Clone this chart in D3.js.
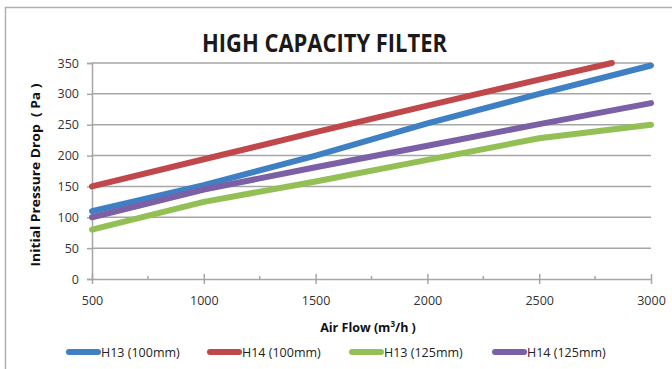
<!DOCTYPE html>
<html>
<head>
<meta charset="utf-8">
<script src="https://cdn.jsdelivr.net/npm/d3@7"></script>
<style>
  body { margin: 0; background: #fff; }
  svg { display: block; }
</style>
</head>
<body>
<svg id="chart" width="672" height="369"></svg>
<script>
    // data
    var airFlow = [500, 1000, 1500, 2000, 2500, 3000];
    var airFlowH14 = [500, 1000, 1500, 2000, 2500, 2825];
    var h13_100 = [110, 152, 200, 252, 300, 346];
    var h14_100 = [150, 194, 238, 281, 323, 350];
    var h13_125 = [80, 125, 158, 193, 228, 250];
    var h14_125 = [100, 145, 181, 216, 251, 285];
    var xTicks = [500, 1000, 1500, 2000, 2500, 3000];
    var xMinor = [750, 1250, 1750, 2250, 2750];
    var yTicks = [0, 50, 100, 150, 200, 250, 300, 350];

    var series = [
        { name: "H13 (100mm)", x: airFlow, y: h13_100, color: "#3f7fc3" },
        { name: "H14 (100mm)", x: airFlowH14, y: h14_100, color: "#c0474a" },
        { name: "H13 (125mm)", x: airFlow, y: h13_125, color: "#93bf55" },
        { name: "H14 (125mm)", x: airFlow, y: h14_125, color: "#7b60a6" }
    ];
    var legendX = [67, 208, 350, 493];

    var font = "'Open Sans', sans-serif";
    var svg = d3.select("#chart");

    // outer frame
    svg.append("rect")
        .attr("x", 5.5).attr("y", 7.5)
        .attr("width", 680).attr("height", 380)
        .attr("fill", "none")
        .attr("stroke", "#b0b0b0")
        .attr("stroke-width", 1.5);

    var x = d3.scaleLinear().domain([500, 3000]).range([92, 651]);
    var y = d3.scaleLinear().domain([0, 350]).range([279, 63]);

    // gridlines
    svg.append("g").selectAll("line")
        .data(yTicks.filter(function (d) { return d > 0; }))
        .enter().append("line")
        .attr("x1", x(500)).attr("x2", x(3000))
        .attr("y1", function (d) { return y(d); })
        .attr("y2", function (d) { return y(d); })
        .attr("stroke", "#a6a6a6")
        .attr("stroke-width", 1.5);

    // y axis
    var yAxis = svg.append("g")
        .attr("transform", "translate(" + x(500) + ",0)")
        .call(d3.axisLeft(y).tickValues(yTicks).tickSize(5).tickPadding(8));
    yAxis.select(".domain").attr("stroke", "#a6a6a6").attr("stroke-width", 1.5);
    yAxis.selectAll(".tick line").attr("stroke", "#a6a6a6").attr("stroke-width", 1.5);
    yAxis.selectAll("text")
        .attr("font-family", font).attr("font-size", "12.5px").attr("fill", "#333");

    // x axis
    var xAxis = svg.append("g")
        .attr("transform", "translate(0," + y(0) + ")")
        .call(d3.axisBottom(x).tickValues(xTicks).tickFormat(d3.format("d"))
            .tickSize(5).tickPadding(12).tickSizeOuter(0));
    xAxis.select(".domain").attr("stroke", "#a6a6a6").attr("stroke-width", 1.5);
    xAxis.selectAll(".tick line").attr("y1", -5).attr("stroke", "#a6a6a6").attr("stroke-width", 1.5);
    xAxis.selectAll("text")
        .attr("font-family", font).attr("font-size", "12.5px").attr("fill", "#333");
    xAxis.selectAll(".minor")
        .data(xMinor)
        .enter().append("line")
        .attr("x1", function (d) { return x(d); })
        .attr("x2", function (d) { return x(d); })
        .attr("y1", -3).attr("y2", 0)
        .attr("stroke", "#a6a6a6").attr("stroke-width", 1.5);

    // lines
    var line = d3.line()
        .x(function (d) { return x(d[0]); })
        .y(function (d) { return y(d[1]); });
    series.forEach(function (s) {
        svg.append("path")
            .datum(d3.zip(s.x, s.y))
            .attr("d", line)
            .attr("fill", "none")
            .attr("stroke", s.color)
            .attr("stroke-width", 6)
            .attr("stroke-linecap", "round")
            .attr("stroke-linejoin", "round");
    });

    // titles
    svg.append("text")
        .attr("x", 202).attr("y", 52)
        .attr("textLength", 245).attr("lengthAdjust", "spacingAndGlyphs")
        .attr("font-family", font).attr("font-weight", "bold")
        .attr("font-size", "25px").attr("fill", "#1a1a1a")
        .text("HIGH CAPACITY FILTER");

    var xt = svg.append("text")
        .attr("x", 368).attr("y", 332)
        .attr("text-anchor", "middle")
        .attr("font-family", font).attr("font-weight", "bold")
        .attr("font-size", "12.5px").attr("fill", "#111");
    xt.append("tspan").text("Air Flow (m");
    xt.append("tspan").attr("font-size", "8px").attr("dy", -5).text("3");
    xt.append("tspan").attr("dy", 5).text("/h )");

    svg.append("text")
        .attr("transform", "translate(40,175) rotate(-90)")
        .attr("text-anchor", "middle")
        .attr("textLength", 183).attr("lengthAdjust", "spacingAndGlyphs")
        .attr("font-family", font).attr("font-weight", "bold")
        .attr("font-size", "13px").attr("fill", "#111")
        .attr("xml:space", "preserve")
        .text("Initial Pressure Drop  ( Pa )");

    // legend
    var leg = svg.append("g").selectAll("g")
        .data(series)
        .enter().append("g")
        .attr("transform", function (d, i) { return "translate(" + legendX[i] + ",352)"; });
    leg.append("line")
        .attr("x1", 2).attr("x2", 31)
        .attr("stroke", function (d) { return d.color; })
        .attr("stroke-width", 6)
        .attr("stroke-linecap", "round");
    leg.append("text")
        .attr("x", 34).attr("y", 4.5)
        .attr("font-family", font).attr("font-size", "12.5px").attr("fill", "#222")
        .text(function (d) { return d.name; });
</script>
</body>
</html>
